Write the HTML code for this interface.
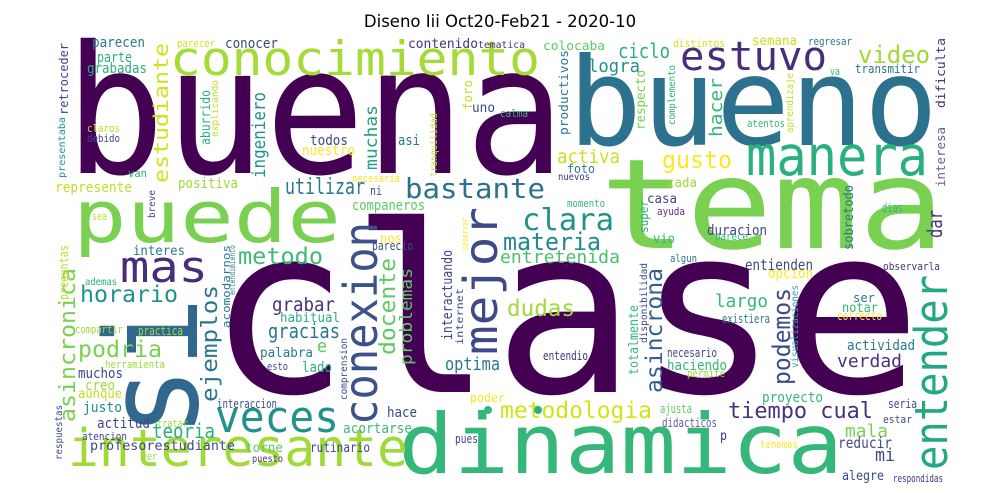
<!DOCTYPE html>
<html><head><meta charset="utf-8">
<style>
html,body{margin:0;padding:0;background:#fff;overflow:hidden;width:1000px;height:500px;}
#wrap{position:relative;width:1000px;height:500px;overflow:hidden;}
svg{display:block;}
svg text.w{font-family:"DejaVu Sans Mono","Liberation Mono",monospace;}
</style></head>
<body>
<div id="wrap">
<svg id="svg" width="1000" height="500" viewBox="0 0 1000 500">
<rect x="0" y="0" width="1000" height="500" fill="#ffffff"/>
<text x="500" y="27" text-anchor="middle" font-family="DejaVu Sans, Liberation Sans, sans-serif" font-size="16.5" fill="#000">Diseno Iii  Oct20-Feb21 - 2020-10</text>
<g id="words"></g>
<circle cx="488" cy="410" r="4" fill="#35b779"/>
<circle cx="538" cy="410" r="4" fill="#2ab07f"/>
</svg>
</div>
<script>
const words = ["clase","buena","bueno","tema","dinamica","puede","si","conocimiento","estuvo","manera","mas","interesante","veces","conexion","mejor","entender","bastante","clara","materia","video","gusto","ciclo","logra","activa","hacer","transmitir","dificulta","interesa","metodologia","tiempo cual","podemos","asincrona","totalmente","largo","dudas","entretenida","verdad","mala","mi","horario","metodo","ejemplos","podria","asincronica","docente","problemas","gracias","grabar","teoria","optima","estudiante","ingeniero","muchas","utilizar","parecen","parte","grabadas","retroceder","conocer","parecer","contenido","tematica","colocaba","distintos","semana","regresar","productivos","respecto","complemento","aprendizaje","atentos","va","calma","foto","nuevos","cada","casa","momento","ayuda","super","duracion","vio","parece","sobretodo","dias","dar","algun","entienden","opcion","observarla","disponibilidad","visualizaciones","ser","notar","correcto","existiera","actividad","entendio","necesario","haciendo","permite","proyecto","ajusta","didacticos","seria","estar","p","reducir","tenemos","interactuando","internet","acomodarnos","entendimiento","habitual","e","palabra","lado","esto","comprension","interaccion","hace","acortarse","pues","poder","actitud","tratar","atencion","justo","aunque","creo","muchos","herramienta","compartir","practica","ademas","interes","preguntas","respuestas","ver","profesorestudiante","torne","rutinario","puesto","parecio","observar","nos","companeros","necesaria","tranquilidad","ni","nuestro","todos","asi","uno","foro","aburrido","explicando","claros","debido","presentaba","van","represente","positiva","breve","sea","alegre","respondidas"];
const posA = [207,65,568,600,398,73,197,170,680,746,120,68,215,377,497,947,405,522,503,858,662,618,588,557,722,855,945,945,500,728,790,662,638,715,507,500,837,845,875,80,238,217,78,75,395,412,268,272,152,445,168,265,377,285,92,97,87,68,225,177,408,478,543,673,752,808,568,645,675,793,747,830,500,567,558,667,647,567,657,648,707,653,715,853,882,942,670,745,768,883,647,798,853,842,837,722,847,543,667,667,687,762,660,662,888,883,720,838,760,452,463,230,235,280,317,260,302,267,347,217,387,343,455,470,97,157,82,83,78,85,78,105,75,138,85,133,68,62,142,90,245,310,252,372,468,380,352,352,437,370,302,310,398,472,472,210,218,87,87,65,128,55,178,155,92,842,893];
const posB = [392,173,145,248,473,242,437,75,70,175,282,466,432,425,355,470,198,230,250,63,168,58,72,163,137,73,108,187,418,418,385,393,375,307,316,263,367,437,461,302,264,402,357,422,355,365,338,311,438,370,183,178,170,194,47,62,73,115,48,47,48,48,50,47,45,45,135,130,125,133,127,75,117,173,180,187,203,207,215,233,235,243,240,250,212,238,262,270,278,270,343,368,302,312,320,323,350,360,357,370,377,402,413,427,408,423,440,448,448,340,345,328,295,322,352,357,372,370,400,408,417,433,443,402,428,427,440,412,398,390,378,368,333,335,285,255,300,460,460,450,452,452,462,250,250,243,210,182,177,195,155,145,145,112,110,145,137,132,142,178,177,192,188,218,220,480,482];
const sizes = [233,178,122,125,83,72,128,47,40,55,44,52,44,46,46,45,28,30,24,24,24,20,18,19,18,12,12,12,23,22,24,23,13,18,23,18,18,18,18,23,23,22,23,22,22,17,20,19,20,18,20,18,17,22,14,14,14,12,14,11,13,10,12,11,13,11,12,13,10,10,11,11,11,12,10,13,13,11,11,12,14,13,11,13,12,20,11,15,14,11,10,10,12,13,12,12,14,12,12,14,11,14,12,12,12,11,13,15,11,14,10,11,8,13,18,13,14,11,10,12,14,14,12,12,14,11,11,14,13,14,14,11,11,12,10,13,12,10,11,13,13,13,10,12,9,13,14,11,10,12,14,14,14,13,12,13,10,11,11,10,11,14,14,10,11,13,11];
const lens = [715,500,370,345,445,268,140,370,147,182,88,340,124,203,148,195,140,92,98,72,70,52,52,63,59,65,70,60,152,145,97,125,70,53,68,120,65,43,20,98,85,117,84,154,97,97,72,63,63,55,140,86,65,80,53,35,60,72,53,38,70,47,62,52,45,44,85,60,60,60,38,10,28,28,32,30,30,38,28,33,60,22,33,65,21,28,27,68,45,57,80,83,22,36,45,48,68,45,50,60,38,61,32,55,29,29,7,54,38,90,57,83,50,60,10,53,30,21,62,60,30,69,23,35,53,31,45,39,44,30,45,60,48,45,32,52,55,55,15,145,38,60,31,41,32,22,73,48,64,12,53,38,22,23,30,55,57,33,33,61,19,77,60,28,15,42,50];
const colors = ["#440154","#440154","#2c728e","#7ad151","#35b779","#7ad151","#31688e","#a5db36","#472d7b","#2ab07f","#472d7b","#a0da39","#21918c","#3b528b","#3e4989","#22a884","#2c728e","#21918c","#23888e","#a0da39","#fde725","#2ab07f","#21918c","#c8e020","#35b779","#2c728e","#46327e","#6c5a9e","#d2e21b","#46327e","#3e4a89","#355f8d","#35b779","#35b779","#a0da39","#4ac16d","#46327e","#7ad151","#3e4989","#21918c","#3cbb75","#2a788e","#7ad151","#7ad151","#5ec962","#5ec962","#2a788e","#46327e","#2ab07f","#2a788e","#d2e21b","#21918c","#1f9e89","#2a788e","#2a788e","#2ab07f","#2ab07f","#3e4989","#3e4989","#d2e21b","#46327e","#46327e","#5ec962","#d2e21b","#c8e020","#2a788e","#2a788e","#7ad151","#2ab07f","#bddf26","#35b779","#35b779","#35b779","#2a788e","#46327e","#a0da39","#3e4989","#35b779","#6a2c8e","#2ab07f","#3e4989","#35b779","#35b779","#2a788e","#35b779","#46327e","#2a788e","#3e4989","#fde725","#46327e","#3e4989","#35a0a0","#2a788e","#35b779","#fde725","#2a788e","#2a788e","#46327e","#3e4989","#35b779","#a0da39","#35b779","#5ec962","#6c58a0","#3e4989","#3e4989","#46327e","#3e4989","#fde725","#3e4989","#3e4989","#2a788e","#2a788e","#2ab07f","#5ec962","#2a788e","#2ab07f","#3e4989","#3e4989","#3e4989","#3e4989","#3cbb75","#3e4989","#fde725","#3e4989","#a0da39","#3e4989","#21918c","#bddf26","#a0da39","#3e4989","#a0da39","#a0da39","#a0da39","#2ab07f","#2a788e","#bddf26","#3e4989","#a0da39","#3e4989","#5ec962","#3e4989","#46327e","#3e4989","#fde725","#fde725","#5ec962","#fde725","#bddf26","#3e4989","#fde725","#3e4989","#2a788e","#3e4989","#bddf26","#2ab07f","#bddf26","#bddf26","#3e4989","#21918c","#2ab07f","#bddf26","#a0da39","#3e4989","#bddf26","#3e4989","#46327e"];
const vertical = ["si","conexion","mejor","entender","hacer","dificulta","interesa","podemos","asincrona","totalmente","ejemplos","asincronica","docente","problemas","estudiante","ingeniero","muchas","retroceder","productivos","respecto","complemento","aprendizaje","super","sobretodo","dar","disponibilidad","visualizaciones","interactuando","internet","acomodarnos","entendimiento","comprension","preguntas","respuestas","observar","tranquilidad","foro","aburrido","explicando","presentaba","breve"];

const g = document.getElementById('words');
const NS = 'http://www.w3.org/2000/svg';
for (let i = 0; i < words.length; i++) {
  const t = document.createElementNS(NS, 'text');
  t.setAttribute('class', 'w');
  t.setAttribute('font-size', sizes[i]);
  t.setAttribute('fill', colors[i]);
  t.setAttribute('textLength', lens[i]);
  t.setAttribute('lengthAdjust', 'spacingAndGlyphs');
  if (vertical.indexOf(words[i]) >= 0) {
    t.setAttribute('transform', 'translate(' + posA[i] + ',' + posB[i] + ') rotate(-90)');
    t.setAttribute('x', 0);
    t.setAttribute('y', 0);
  } else {
    t.setAttribute('x', posA[i]);
    t.setAttribute('y', posB[i]);
  }
  t.textContent = words[i];
  
  
  g.appendChild(t);
}
</script>
</body></html>
